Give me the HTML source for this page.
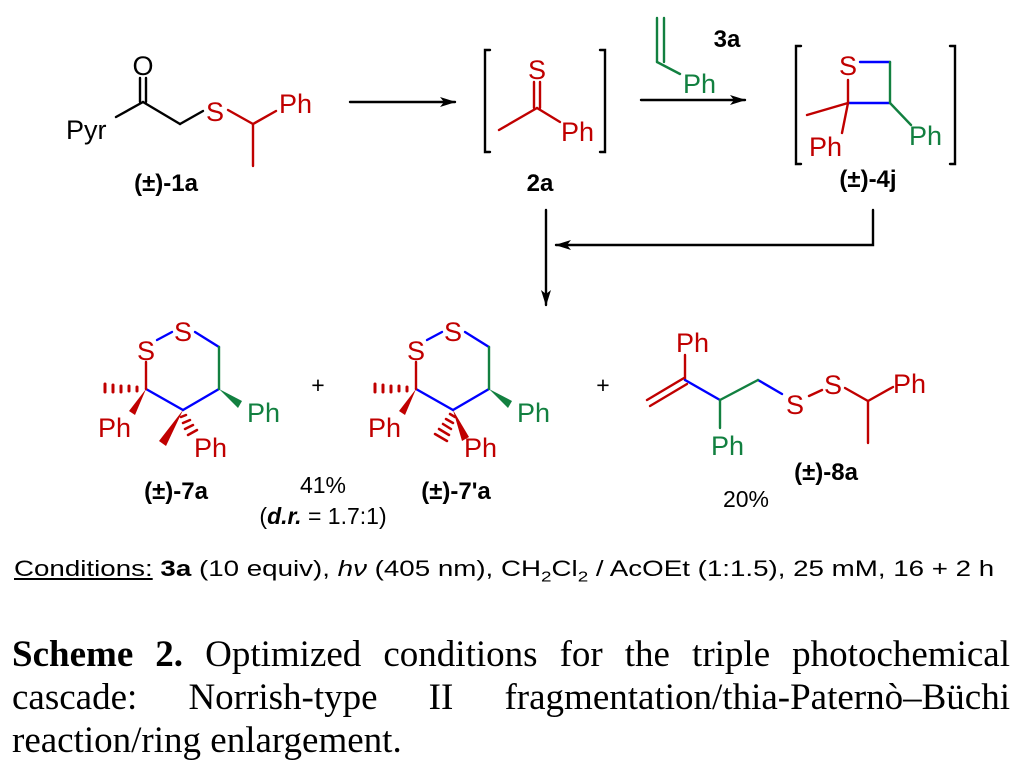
<!DOCTYPE html>
<html><head><meta charset="utf-8"><style>
html,body{margin:0;padding:0;background:#fff;width:1022px;height:771px;overflow:hidden}
svg{position:absolute;left:0;top:0}
.cap{position:absolute;left:12px;width:998px;top:633px;font-family:"Liberation Serif",serif;font-size:37px;line-height:43px;color:#000}
.cap div{text-align:justify;text-align-last:justify;white-space:nowrap}
.cap div.l{text-align-last:left}
.cond{position:absolute;left:14px;top:556px;font-family:"Liberation Sans",sans-serif;font-size:22px;color:#000;white-space:nowrap;transform:scaleX(1.26);transform-origin:0 0}
</style></head><body>
<svg width="1022" height="600" viewBox="0 0 1022 600" font-family="Liberation Sans, sans-serif">
<defs><marker id="ah" markerWidth="16" markerHeight="10" refX="15" refY="5" orient="auto" markerUnits="userSpaceOnUse"><path d="M0,0 L16,5 L0,10 L4,5z" fill="#000"/></marker></defs>
<g stroke-width="2.4" fill="none" stroke-linecap="round">
<g stroke="#000"><line x1="116" y1="117" x2="143" y2="102"/><line x1="140" y1="102" x2="140" y2="78"/><line x1="146" y1="102" x2="146" y2="78"/><line x1="143" y1="102" x2="180" y2="124"/><line x1="180" y1="124" x2="203" y2="111"/></g>
<g stroke="#c00000"><line x1="228" y1="110" x2="253" y2="124"/><line x1="253" y1="124" x2="276" y2="111"/><line x1="253" y1="124" x2="253" y2="166"/></g>
<line x1="350" y1="102" x2="455" y2="102" stroke="#000" marker-end="url(#ah)"/>
<path d="M490,50 H485 V152 H490 M600,50 H605 V152 H600" stroke="#000"/>
<g stroke="#c00000"><line x1="534" y1="82" x2="534" y2="108"/><line x1="540" y1="82" x2="540" y2="108"/><line x1="537" y1="108" x2="499" y2="130"/><line x1="537" y1="108" x2="560" y2="122"/></g>
<line x1="641" y1="100" x2="745" y2="100" stroke="#000" marker-end="url(#ah)"/>
<g stroke="#128040"><line x1="657" y1="18" x2="657" y2="62"/><line x1="664" y1="18" x2="664" y2="62"/><line x1="657" y1="62" x2="680" y2="74"/></g>
<path d="M801,46 H796 V164 H801 M950,46 H955 V164 H950" stroke="#000"/>
<g stroke="#0000ff"><line x1="860" y1="62" x2="890" y2="62"/><line x1="890" y1="103" x2="848" y2="103"/></g>
<g stroke="#128040"><line x1="890" y1="62" x2="890" y2="103"/><line x1="890" y1="103" x2="911" y2="125"/></g>
<g stroke="#c00000"><line x1="848" y1="103" x2="848" y2="80"/><line x1="848" y1="103" x2="807" y2="115"/><line x1="848" y1="103" x2="842" y2="133"/></g>
<line x1="546" y1="210" x2="546" y2="305" stroke="#000" marker-end="url(#ah)"/>
<path d="M873,210 V245 H556" stroke="#000" marker-end="url(#ah)"/>
<g id="ring">
<g stroke="#0000ff"><line x1="157" y1="340" x2="172" y2="332"/><line x1="195" y1="332" x2="219" y2="347"/><line x1="219" y1="389" x2="183" y2="410"/><line x1="183" y1="410" x2="146" y2="389"/></g>
<g stroke="#128040"><line x1="219" y1="347" x2="219" y2="389"/></g>
<g stroke="#c00000"><line x1="146" y1="389" x2="146" y2="362"/></g>
<path d="M146,389 L129,411 L135,415Z" fill="#c00000" stroke="none"/>
<g stroke="#c00000" stroke-width="3"><line x1="105" y1="384" x2="105" y2="392"/><line x1="113" y1="385" x2="113" y2="392"/><line x1="121" y1="386" x2="121" y2="392"/><line x1="129" y1="386" x2="129" y2="391"/><line x1="137" y1="387" x2="137" y2="391"/></g>
<path d="M219,389 L242,401 L238,408Z" fill="#128040" stroke="none"/>
</g>
<path d="M183,410 L159,441 L166,446Z" fill="#c00000" stroke="none"/>
<g stroke="#c00000" stroke-width="2.5"><line x1="186" y1="415" x2="181" y2="417"/><line x1="190" y1="420" x2="183" y2="423"/><line x1="193" y1="425" x2="185" y2="429"/><line x1="197" y1="430" x2="188" y2="435"/></g>
<use href="#ring" x="270"/>
<path d="M453,410 L462,441 L469,437Z" fill="#c00000" stroke="none"/>
<g stroke="#c00000" stroke-width="2.5"><line x1="450" y1="414" x2="455" y2="417"/><line x1="446" y1="419" x2="453" y2="423"/><line x1="443" y1="424" x2="451" y2="429"/><line x1="439" y1="429" x2="449" y2="435"/><line x1="435" y1="434" x2="447" y2="441"/></g>
<g stroke="#c00000"><line x1="647" y1="400" x2="684" y2="378"/><line x1="650" y1="406" x2="687" y2="384"/><line x1="685" y1="380" x2="685" y2="355"/><line x1="809" y1="396" x2="822" y2="390"/><line x1="845" y1="388" x2="868" y2="401"/><line x1="868" y1="401" x2="893" y2="387"/><line x1="868" y1="401" x2="868" y2="443"/></g>
<g stroke="#0000ff"><line x1="685" y1="380" x2="720" y2="400"/><line x1="758" y1="380" x2="782" y2="394"/></g>
<g stroke="#128040"><line x1="720" y1="400" x2="758" y2="380"/><line x1="720" y1="400" x2="720" y2="428"/></g>
</g>
<g font-size="27">
<text x="66" y="139" fill="#000">Pyr</text>
<text x="143" y="75" fill="#000" text-anchor="middle">O</text>
<text x="215" y="121" fill="#c00000" text-anchor="middle">S</text>
<text x="279" y="113" fill="#c00000">Ph</text>
<text x="537" y="79" fill="#c00000" text-anchor="middle">S</text>
<text x="561" y="141" fill="#c00000">Ph</text>
<text x="683" y="93" fill="#128040">Ph</text>
<text x="848" y="75" fill="#c00000" text-anchor="middle">S</text>
<text x="809" y="156" fill="#c00000">Ph</text>
<text x="909" y="145" fill="#128040">Ph</text>
<text x="183" y="341" fill="#c00000" text-anchor="middle">S</text>
<text x="146" y="360" fill="#c00000" text-anchor="middle">S</text>
<text x="98" y="437" fill="#c00000">Ph</text>
<text x="194" y="457" fill="#c00000">Ph</text>
<text x="247" y="422" fill="#128040">Ph</text>
<text x="453" y="341" fill="#c00000" text-anchor="middle">S</text>
<text x="416" y="360" fill="#c00000" text-anchor="middle">S</text>
<text x="368" y="437" fill="#c00000">Ph</text>
<text x="464" y="457" fill="#c00000">Ph</text>
<text x="517" y="422" fill="#128040">Ph</text>
<text x="676" y="352" fill="#c00000">Ph</text>
<text x="795" y="414" fill="#c00000" text-anchor="middle">S</text>
<text x="833" y="394" fill="#c00000" text-anchor="middle">S</text>
<text x="893" y="393" fill="#c00000">Ph</text>
<text x="711" y="455" fill="#128040">Ph</text>
</g>
<g font-size="23" fill="#000">
<text x="318" y="393" text-anchor="middle">+</text>
<text x="603" y="393" text-anchor="middle">+</text>
<text x="323" y="493" text-anchor="middle">41%</text>
<text x="323" y="524" text-anchor="middle">(<tspan font-weight="bold" font-style="italic">d.r.</tspan> = 1.7:1)</text>
<text x="746" y="507" text-anchor="middle">20%</text>
</g>
<g font-size="24" font-weight="bold" fill="#000" text-anchor="middle">
<text x="166" y="191">(±)-1a</text>
<text x="540" y="191">2a</text>
<text x="727" y="47">3a</text>
<text x="868" y="187">(±)-4j</text>
<text x="176" y="499">(±)-7a</text>
<text x="456" y="499">(±)-7'a</text>
<text x="826" y="480">(±)-8a</text>
</g>
</svg>
<div class="cond"><u>Conditions:</u> <b>3a</b> (10 equiv), <i>h</i><i>ν</i> (405 nm), CH<sub style="font-size:15px">2</sub>Cl<sub style="font-size:15px">2</sub> / AcOEt (1:1.5), 25 mM, 16 + 2 h</div>
<div class="cap">
<div><b>Scheme 2.</b> Optimized conditions for the triple photochemical</div>
<div>cascade: Norrish-type II fragmentation/thia-Paternò–Büchi</div>
<div class="l">reaction/ring enlargement.</div>
</div>
</body></html>
